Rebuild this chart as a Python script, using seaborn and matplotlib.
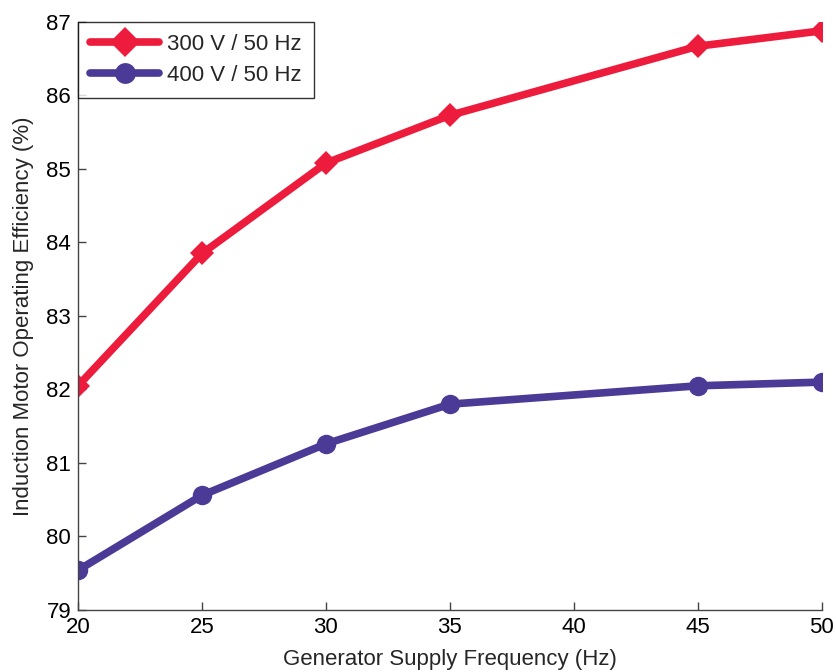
import numpy as np
import pandas as pd
import matplotlib
matplotlib.use("Agg")
import matplotlib.pyplot as plt
import seaborn as sns

# Generator supply frequency (Hz)
frequency = [20, 25, 30, 35, 45, 50]
# Induction motor efficiency (%) for each supply condition
eff_300v = [82.05, 83.85, 85.08, 85.73, 86.67, 86.88]
eff_400v = [79.54, 80.56, 81.26, 81.80, 82.05, 82.10]
series_names = ["300 V / 50 Hz", "400 V / 50 Hz"]

df = pd.DataFrame({
    "freq": frequency * 2,
    "eff": eff_300v + eff_400v,
    "series": [series_names[0]] * len(frequency) + [series_names[1]] * len(frequency),
})

sns.set_theme(style="white")
plt.rcParams["font.family"] = ["Liberation Sans", "DejaVu Sans"]

fig = plt.figure(figsize=(8.36, 6.72), dpi=100)
ax = fig.add_axes([0.0933, 0.0923, 0.8897, 0.875])

palette = {series_names[0]: "#ED1C3C", series_names[1]: "#4B3A96"}
markers = {series_names[0]: "D", series_names[1]: "o"}

sns.lineplot(data=df, x="freq", y="eff", hue="series", style="series",
             palette=palette, markers=markers, dashes=False,
             linewidth=5.5, markersize=14, markeredgewidth=0, ax=ax)

# diamonds a little smaller than circles
for line in ax.get_lines():
    if line.get_marker() == "D":
        line.set_markersize(12)

ax.set_xlim(20, 50)
ax.set_ylim(79, 87)
ax.set_xticks([20, 25, 30, 35, 40, 45, 50])
ax.set_yticks(range(79, 88))
ax.tick_params(direction="in", length=6, width=1, labelsize=16, colors="#444444",
               labelcolor="black", left=True, bottom=True, pad=5)
for side in ["top", "right"]:
    ax.spines[side].set_visible(False)
for side in ["left", "bottom"]:
    ax.spines[side].set_color("#444444")
    ax.spines[side].set_linewidth(1)

ax.set_xlabel("Generator Supply Frequency (Hz)", fontsize=16, labelpad=8)
ax.set_ylabel("Induction Motor Operating Efficiency (%)", fontsize=16, labelpad=9)

leg = ax.legend(loc="upper left", fontsize=16, frameon=True, fancybox=False,
                borderaxespad=0, handlelength=3.1, handletextpad=0.35,
                labelspacing=0.45, borderpad=0.55)
leg.get_frame().set_edgecolor("black")
leg.get_frame().set_linewidth(1)
leg.set_title(None)
for line in leg.get_lines():
    line.set_linewidth(5.5)
    line.set_markersize(15)

fig.savefig("out.png", dpi=100)
